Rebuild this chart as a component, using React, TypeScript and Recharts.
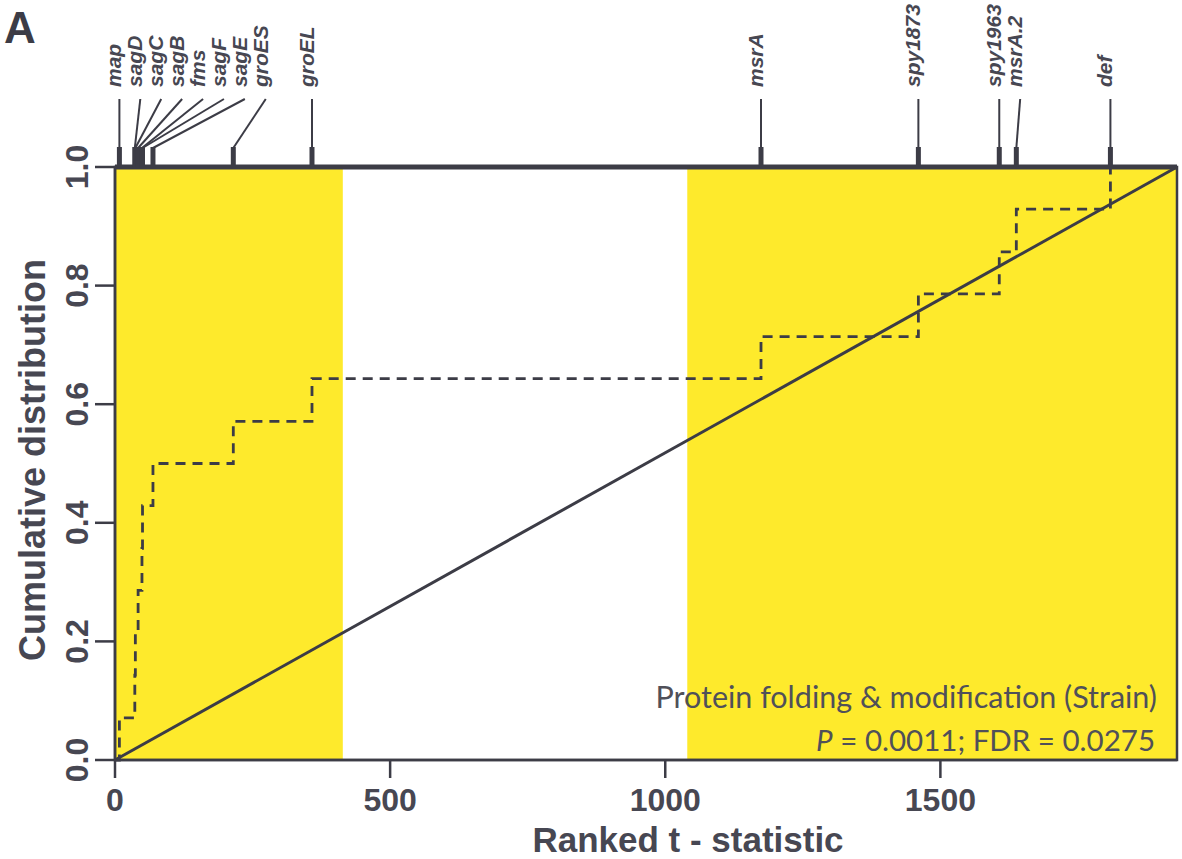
import React from 'react';
import {
  ComposedChart,
  XAxis,
  YAxis,
  Line,
  Scatter,
  ReferenceArea,
  ReferenceLine,
} from 'recharts';

// ---------- data ----------
const X_MAX = 1930;
const xTicks = [0, 500, 1000, 1500];
const yTicks = [0, 0.2, 0.4, 0.6, 0.8, 1.0];

const geneNames = ['map', 'sagD', 'sagC', 'sagB', 'fms', 'sagF', 'sagE', 'groES', 'groEL', 'msrA', 'spy1873', 'spy1963', 'msrA.2', 'def'];
const geneRanks = [8, 36, 37, 42, 49, 50, 69, 215, 358, 1174, 1460, 1607, 1638, 1809];
const cumFraction = [0.071, 0.143, 0.214, 0.286, 0.357, 0.429, 0.5, 0.571, 0.643, 0.714, 0.786, 0.857, 0.929, 1.0];

const expectedX = [0, X_MAX];
const expectedY = [0, 1];

const bandStart = [0, 1040];
const bandEnd = [414, X_MAX];

// ---------- layout / style ----------
const W = 1182;
const H = 859;
const M_TOP = 167;
const M_RIGHT = 5;
const Y_W = 115;
const X_H = 99;
const PLOT_W = W - Y_W - M_RIGHT;
const PX_PER_UNIT = PLOT_W / X_MAX;
const LABEL_GAP = 38; // minimum spacing of gene labels, in rank units

const DARK = '#3c3c46';
const TEXT = '#474752';
const YELLOW = '#FEEA2C';
const AXIS_FONT = "'Liberation Sans', Arial, sans-serif";

// ---------- derived tables ----------
const stepData = [{ x: 0, y: 0 }].concat(
  geneRanks.map((r, i) => ({ x: r, y: cumFraction[i] })),
  [{ x: X_MAX, y: 1 }]
);
const diagData = expectedX.map((x, i) => ({ x, y: expectedY[i] }));

const labelPos: number[] = [];
geneRanks.forEach((r, i) => {
  const prev = i > 0 ? labelPos[i - 1] : -Infinity;
  labelPos.push(Math.max(r, prev + LABEL_GAP));
});
const geneData = geneNames.map((name, i) => ({ x: geneRanks[i], y: 1, name, labelX: labelPos[i] }));

const GeneMark = (props: any) => {
  const { cx, cy, payload } = props;
  if (cx == null || cy == null || !payload) return <g />;
  const lx = cx + (payload.labelX - payload.x) * PX_PER_UNIT;
  return (
    <g>
      <line x1={cx} y1={cy} x2={cx} y2={cy - 20} stroke={DARK} strokeWidth={5} />
      <line x1={cx} y1={cy - 19} x2={lx} y2={cy - 68} stroke={DARK} strokeWidth={2} />
      <text
        transform={`translate(${lx + 2},${cy - 80}) rotate(-90)`}
        fontFamily={AXIS_FONT}
        fontStyle="italic"
        fontWeight="bold"
        fontSize={21}
        fill={TEXT}
        textAnchor="start"
      >
        {payload.name}
      </text>
    </g>
  );
};

const XTick = (props: any) => {
  const { x, y, payload } = props;
  return (
    <text x={x} y={y + 31} textAnchor="middle" fontFamily={AXIS_FONT} fontWeight="bold" fontSize={32} fill={TEXT}>
      {payload.value}
    </text>
  );
};

const YTick = (props: any) => {
  const { x, y, payload } = props;
  return (
    <text
      transform={`translate(${x - 5},${y}) rotate(-90)`}
      textAnchor="middle"
      fontFamily={AXIS_FONT}
      fontWeight="bold"
      fontSize={32}
      fill={TEXT}
    >
      {Number(payload.value).toFixed(1)}
    </text>
  );
};

const Overlay = () => (
  <svg
    width={W}
    height={H}
    style={{ position: 'absolute', left: 0, top: 0, pointerEvents: 'none' }}
  >
    <text x={4} y={43} fontFamily={AXIS_FONT} fontWeight="bold" fontSize={44} fill={DARK}>
      A
    </text>
    <text x={688} y={852} textAnchor="middle" fontFamily={AXIS_FONT} fontWeight="bold" fontSize={35} fill={TEXT}>
      Ranked t - statistic
    </text>
    <text
      transform="translate(45,460) rotate(-90)"
      textAnchor="middle"
      fontFamily={AXIS_FONT}
      fontWeight="bold"
      fontSize={36}
      fill={TEXT}
    >
      Cumulative distribution
    </text>
    <text x={1157} y={708} textAnchor="end" fontFamily="Lato, 'Open Sans', sans-serif" fontSize={30.5} fill="#505059">
      Protein folding &amp; modification (Strain)
    </text>
    <text x={1155} y={751} textAnchor="end" fontFamily="Lato, 'Open Sans', sans-serif" fontSize={29.5} fill="#505059">
      <tspan fontStyle="italic">P</tspan> = 0.0011; FDR = 0.0275
    </text>
  </svg>
);

export default function App() {
  return (
    <div style={{ position: 'absolute', left: 0, top: 0, width: W, height: H, background: '#fff' }}>
      <ComposedChart width={W} height={H} margin={{ top: M_TOP, right: M_RIGHT, bottom: 0, left: 0 }}>
        <XAxis
          type="number"
          dataKey="x"
          domain={[0, X_MAX]}
          ticks={xTicks}
          height={X_H}
          tickSize={18}
          tick={<XTick />}
          axisLine={{ stroke: DARK, strokeWidth: 2.5 }}
          tickLine={{ stroke: DARK, strokeWidth: 2.5 }}
        />
        <YAxis
          type="number"
          dataKey="y"
          domain={[0, 1]}
          ticks={yTicks}
          width={Y_W}
          tickSize={20}
          tick={<YTick />}
          axisLine={{ stroke: DARK, strokeWidth: 2.5 }}
          tickLine={{ stroke: DARK, strokeWidth: 2.5 }}
        />
        {bandStart.map((s, i) => (
          <ReferenceArea
            key={`band${i}`}
            x1={s}
            x2={bandEnd[i]}
            y1={0}
            y2={1}
            fill={YELLOW}
            fillOpacity={1}
            stroke="none"
            ifOverflow="visible"
          />
        ))}
        <Line
          data={diagData}
          dataKey="y"
          type="linear"
          stroke={DARK}
          strokeWidth={3}
          dot={false}
          isAnimationActive={false}
        />
        <Line
          data={stepData}
          dataKey="y"
          type="stepAfter"
          stroke={DARK}
          strokeWidth={2.8}
          strokeDasharray="10 7"
          dot={false}
          isAnimationActive={false}
        />
        <ReferenceArea x1={0} x2={X_MAX} y1={0} y2={1} fill="none" stroke={DARK} strokeWidth={2.5} ifOverflow="visible" />
        <ReferenceLine y={1} stroke={DARK} strokeWidth={5} ifOverflow="visible" />
        <Scatter data={geneData} dataKey="y" shape={(p: any) => <GeneMark {...p} />} isAnimationActive={false} />
      </ComposedChart>
      <Overlay />
    </div>
  );
}
